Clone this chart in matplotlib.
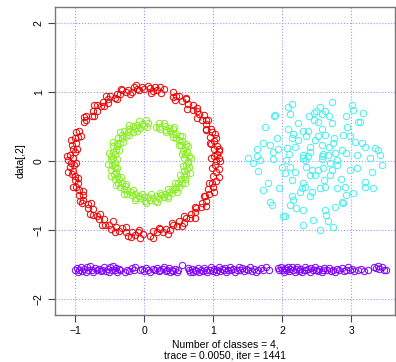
import matplotlib
matplotlib.use("Agg")
import matplotlib.pyplot as plt

# points (data units)
red_x = [1.04, 1.08, 1.01, 1.05, 1.09, 1.01, 1.05, 0.97, 1.01, 1.04, 0.96, 0.98, 0.97, 0.89, 0.90,
         0.89, 0.83, 0.86, 0.79, 0.77, 0.70, 0.70, 0.63, 0.61, 0.55, 0.50, 0.46, 0.42, 0.41, 0.29,
         0.24, 0.19, 0.16, 0.12, 0.08, 0.05, 0.00,
         -0.04, -0.07, -0.11, -0.15, -0.18, -0.24, -0.27, -0.32, -0.35, -0.40, -0.43, -0.49, -0.52,
         -0.52, -0.60, -0.63, -0.69, -0.68, -0.75, -0.76, -0.84, -0.84, -0.88, -0.94, -0.99, -0.96,
         -1.01, -0.99, -1.05, -1.03, -1.00, -1.07, -1.04, -1.10,
         -1.06, -1.02, -1.08, -1.03, -1.05, -1.00, -1.01, -0.96, -0.99, -0.94, -0.95, -0.89, -0.89,
         -0.90, -0.82, -0.81, -0.75, -0.75, -0.68, -0.66, -0.59, -0.57, -0.51, -0.48, -0.41, -0.37,
         -0.32, -0.27, -0.23, -0.18, -0.13, -0.09, -0.06, -0.02,
         0.09, 0.12, 0.18, 0.23, 0.27, 0.32, 0.38, 0.41, 0.48, 0.51, 0.58, 0.61, 0.67, 0.68, 0.74,
         0.75, 0.82, 0.83, 0.90, 0.88, 0.94, 0.92, 0.99, 0.98, 1.04, 1.00, 1.04, 1.08, 1.03,
         0.97, 1.09, 0.96, 1.02, 0.89, 0.92, 0.77, 0.77, 0.62, 0.60, 0.45, 0.23, 0.10,
         -0.12, -0.21, -0.34, -0.40, -0.55, -0.58, -0.73, -0.73, -0.88, -0.92, -1.06, -0.98, -1.12,
         -0.99, -1.10, -0.96, -1.03, -0.89, -0.93, -0.77, -0.79, -0.64, -0.62, -0.46, -0.42, -0.27,
         -0.19, -0.07, 0.12, 0.21, 0.34, 0.40, 0.55, 0.58, 0.74, 0.74, 0.89, 0.86, 1.01, 0.94,
         1.08, 0.98, 1.10]
red_y = [0.00, 0.04, 0.07, 0.11, 0.15, 0.18, 0.22, 0.25, 0.29, 0.34, 0.35, 0.42, 0.47, 0.47, 0.54,
         0.60, 0.60, 0.67, 0.68, 0.73, 0.74, 0.82, 0.83, 0.90, 0.87, 0.94, 0.95, 0.93, 1.00, 1.05,
         0.99, 1.03, 1.07, 1.02, 1.06, 1.09, 1.04,
         1.08, 1.03, 1.05, 1.08, 1.00, 1.03, 1.00, 1.03, 0.97, 0.98, 0.92, 0.95, 0.90,
         0.84, 0.86, 0.80, 0.82, 0.73, 0.72, 0.66, 0.65, 0.59, 0.57, 0.44, 0.42, 0.35,
         0.33, 0.27, 0.24, 0.18, 0.14, 0.09, 0.05, 0.02,
         -0.02, -0.05, -0.09, -0.14, -0.19, -0.21, -0.27, -0.31, -0.38, -0.42, -0.49, -0.49, -0.56,
         -0.61, -0.62, -0.68, -0.70, -0.78, -0.79, -0.84, -0.84, -0.92, -0.92, -0.98, -0.96, -1.01,
         -0.97, -1.02, -1.08, -1.02, -1.07, -1.03, -1.11, -1.05,
         -1.08, -1.01, -1.03, -0.98, -1.02, -0.98, -1.00, -0.93, -0.94, -0.87, -0.89, -0.83, -0.83,
         -0.76, -0.74, -0.68, -0.67, -0.61, -0.58, -0.51, -0.48, -0.41, -0.38, -0.32, -0.28, -0.21,
         -0.16, -0.11, -0.05,
         0.05, 0.17, 0.26, 0.39, 0.45, 0.60, 0.62, 0.77, 0.76, 0.92, 0.88, 1.07, 0.99,
         1.11, 0.97, 1.05, 0.90, 0.94, 0.80, 0.81, 0.66, 0.64, 0.37, 0.30, 0.17, 0.08,
         -0.03, -0.15, -0.24, -0.38, -0.43, -0.58, -0.60, -0.76, -0.76, -0.92, -0.87, -1.03, -0.95,
         -1.10, -1.00, -1.11, -0.97, -1.05, -0.90, -0.94, -0.79, -0.82, -0.66, -0.65, -0.50, -0.45,
         -0.31, -0.23, -0.10, 0.00]

green_x = [0.63, 0.58, 0.65, 0.59, 0.62, 0.56, 0.59, 0.61, 0.53, 0.55, 0.51, 0.52, 0.46, 0.46,
           0.42, 0.42, 0.38, 0.36, 0.31, 0.30, 0.28, 0.22, 0.21, 0.17,
           0.05, 0.02, 0.00, -0.03, -0.06, -0.10, -0.12, -0.17, -0.17, -0.22, -0.23, -0.29, -0.27,
           -0.32, -0.32, -0.38, -0.35, -0.40, -0.40, -0.46, -0.41, -0.45, -0.43, -0.48, -0.45, -0.48,
           -0.43, -0.47, -0.43, -0.48, -0.41, -0.44, -0.40, -0.43, -0.36, -0.38, -0.33, -0.35, -0.28,
           -0.29, -0.25, -0.25, -0.19, -0.18, -0.14, -0.12, -0.07, -0.06, -0.01, 0.01, 0.05,
           0.08, 0.12, 0.15, 0.18, 0.21, 0.24, 0.28, 0.30, 0.35, 0.36, 0.40, 0.40, 0.45, 0.46, 0.51,
           0.49, 0.54, 0.53, 0.59, 0.57, 0.61, 0.57, 0.62, 0.65, 0.60, 0.64,
           0.68, 0.55, 0.64, 0.50, 0.55, 0.41, 0.43, 0.31, 0.23,
           0.04, -0.07, -0.10, -0.22, -0.22, -0.35, -0.31, -0.45, -0.37, -0.51, -0.40,
           -0.52, -0.39, -0.48, -0.34, -0.41, -0.27, -0.29, -0.16, -0.14, -0.04, 0.02,
           0.10, 0.18, 0.23, 0.34, 0.35, 0.48, 0.45, 0.59, 0.52, 0.66, 0.56]
green_y = [0.00, 0.04, 0.07, 0.10, 0.14, 0.15, 0.20, 0.25, 0.24, 0.29, 0.30, 0.36, 0.34, 0.40,
           0.39, 0.46, 0.44, 0.48, 0.45, 0.51, 0.55, 0.50, 0.55, 0.50,
           0.56, 0.60, 0.51, 0.54, 0.48, 0.53, 0.48, 0.51, 0.43, 0.46, 0.42, 0.44, 0.37,
           0.38, 0.33, 0.34, 0.27, 0.27, 0.22, 0.22, 0.16, 0.14, 0.10, 0.08, 0.04, 0.01,
           -0.03, -0.06, -0.09, -0.13, -0.15, -0.19, -0.22, -0.26, -0.26, -0.31, -0.32, -0.37, -0.36,
           -0.41, -0.42, -0.48, -0.45, -0.49, -0.48, -0.53, -0.50, -0.54, -0.52, -0.58, -0.52,
           -0.56, -0.53, -0.57, -0.51, -0.53, -0.49, -0.52, -0.48, -0.50, -0.44, -0.46, -0.40, -0.41,
           -0.37, -0.37, -0.31, -0.31, -0.26, -0.26, -0.21, -0.19, -0.14, -0.12, -0.09, -0.05, -0.03,
           0.05, 0.11, 0.22, 0.24, 0.37, 0.35, 0.49, 0.42, 0.46,
           0.50, 0.58, 0.44, 0.52, 0.38, 0.42, 0.28, 0.28, 0.16, 0.12, 0.03,
           -0.04, -0.10, -0.21, -0.23, -0.35, -0.33, -0.47, -0.42, -0.56, -0.47, -0.60,
           -0.48, -0.59, -0.46, -0.54, -0.40, -0.45, -0.31, -0.32, -0.20, -0.17, -0.07]

cyan_x = [2.72, 2.14, 2.09, 2.55, 2.49, 2.62, 2.11, 2.46, 2.39, 2.57, 2.68, 2.93, 3.02, 3.01, 1.88,
          2.46, 2.52, 2.72, 2.23, 1.75, 2.09, 2.30, 2.38, 2.57, 2.94, 3.10, 1.92, 2.14, 2.16, 2.23,
          2.34, 2.47, 2.52, 2.62, 2.75, 2.88, 2.98, 3.05, 1.72, 1.83, 1.94, 2.07, 2.18, 2.41, 2.57,
          2.68, 2.74, 2.86, 1.63, 1.51, 1.63, 1.87, 2.10, 2.30, 2.40, 2.59, 2.67, 2.76, 2.93, 3.08,
          1.68, 2.06, 2.33, 2.57, 2.79, 3.17, 3.13, 3.39, 3.35, 3.27, 3.42, 3.15, 3.20, 1.89,
          1.58, 1.65, 1.87, 1.99, 2.04, 2.11, 2.18, 2.30, 2.38, 2.35, 2.43, 2.52, 2.41, 2.47, 2.57,
          2.59, 2.69, 2.79, 2.72, 2.69, 2.60, 2.85, 2.98, 3.08, 1.80, 1.72, 1.96, 2.14, 2.30, 2.28,
          2.43, 2.55, 2.62, 2.79, 2.91, 2.93, 3.03, 1.82, 1.85, 2.14, 2.16, 2.40, 2.11, 2.20, 2.30,
          2.62, 2.63, 2.76, 2.86, 2.01, 2.45, 2.67, 2.74, 2.30, 2.55, 2.04, 2.88, 2.26, 2.33, 3.20,
          3.32, 3.20, 3.45, 3.30]
cyan_y = [0.86, 0.83, 0.79, 0.79, 0.73, 0.73, 0.68, 0.70, 0.65, 0.68, 0.66, 0.66, 0.74, 0.82, 0.66,
          0.60, 0.57, 0.55, 0.55, 0.50, 0.46, 0.44, 0.44, 0.46, 0.49, 0.57, 0.34, 0.34, 0.39, 0.31,
          0.36, 0.30, 0.36, 0.38, 0.34, 0.38, 0.37, 0.28, 0.26, 0.23, 0.18, 0.19, 0.21, 0.21, 0.24,
          0.21, 0.26, 0.16, 0.18, 0.04, 0.08, 0.13, 0.10, 0.09, 0.14, 0.10, 0.09, 0.12, 0.12, 0.09,
          0.02, 0.02, 0.02, 0.03, 0.02, 0.70, 0.57, 0.16, 0.19, 0.05, 0.09, 0.27, 0.21, 0.67,
          -0.03, -0.14, 0.03, -0.08, -0.17, -0.09, -0.15, 0.04, 0.07, -0.08, -0.13, -0.13, -0.20,
          -0.20, 0.07, -0.10, -0.03, -0.05, -0.13, -0.20, -0.27, -0.26, -0.13, -0.10, -0.32, -0.42,
          -0.39, -0.27, -0.32, -0.39, -0.44, -0.39, -0.37, -0.39, -0.38, -0.49, -0.46, -0.59, -0.63,
          -0.50, -0.56, -0.51, -0.63, -0.68, -0.71, -0.71, -0.78, -0.66, -0.59, -0.80, -0.85, -0.87,
          -0.95, -0.93, -1.00, -0.80, -0.61, -0.44, -0.37, -0.37, -0.39, -0.30, -0.05, -0.15]

purple_x = [-1.00, -0.98, -0.96, -0.94, -0.92, -0.90, -0.88, -0.85, -0.83, -0.81, -0.78, -0.76,
            -0.74, -0.71, -0.69, -0.66, -0.63, -0.61, -0.58, -0.56, -0.53, -0.51, -0.49, -0.47,
            -0.45, -0.43, -0.41, -0.39, -0.37, -0.35,
            -0.28, -0.25, -0.22, -0.18, -0.15, -0.13,
            -0.06, -0.03, 0.00, 0.03, 0.06, 0.09, 0.12, 0.15, 0.18, 0.21, 0.23,
            0.27, 0.29, 0.31, 0.33, 0.36, 0.38, 0.40, 0.42, 0.45, 0.47, 0.49, 0.54,
            0.63, 0.65, 0.67, 0.69, 0.71, 0.73, 0.75, 0.78, 0.80, 0.82, 0.85, 0.87, 0.89, 0.91,
            0.95, 0.97, 0.99, 1.01, 1.04, 1.06, 1.08, 1.10, 1.12, 1.15, 1.17, 1.19, 1.21, 1.24,
            1.26, 1.29, 1.31, 1.34, 1.37, 1.39, 1.42, 1.45, 1.47, 1.50, 1.53, 1.56, 1.59, 1.62,
            1.65, 1.69, 1.72, 1.77, 1.81,
            1.94, 1.96, 1.98, 2.00, 2.02, 2.04, 2.06, 2.08, 2.10, 2.12, 2.14, 2.16, 2.18, 2.20,
            2.22, 2.24, 2.26, 2.29, 2.31, 2.33, 2.35, 2.38, 2.40, 2.42, 2.45, 2.47, 2.49, 2.52,
            2.54, 2.57, 2.59, 2.61,
            2.65, 2.68, 2.71, 2.74, 2.77, 2.80, 2.83, 2.86, 2.89, 2.92, 2.95, 2.98, 3.01, 3.04,
            3.10, 3.14, 3.19, 3.25, 3.33, 3.36, 3.39, 3.41, 3.44, 3.47, 3.50]
purple_y = [-1.58, -1.55, -1.60, -1.57, -1.53, -1.59, -1.56, -1.61, -1.54, -1.58, -1.52, -1.57,
            -1.60, -1.55, -1.58, -1.56, -1.59, -1.57, -1.54, -1.59, -1.56, -1.60, -1.53, -1.57,
            -1.52, -1.58, -1.55, -1.60, -1.56, -1.58,
            -1.60, -1.57, -1.59, -1.55, -1.58, -1.54,
            -1.58, -1.56, -1.59, -1.55, -1.57, -1.60, -1.56, -1.58, -1.55, -1.59, -1.57,
            -1.56, -1.53, -1.59, -1.57, -1.55, -1.60, -1.57, -1.59, -1.56, -1.61, -1.58, -1.51,
            -1.55, -1.58, -1.60, -1.56, -1.61, -1.57, -1.59, -1.55, -1.60, -1.57, -1.59, -1.55, -1.58, -1.61,
            -1.57, -1.54, -1.59, -1.56, -1.60, -1.57, -1.54, -1.59, -1.56, -1.58, -1.55, -1.60, -1.57, -1.54,
            -1.58, -1.56, -1.60, -1.57, -1.53, -1.58, -1.55, -1.59, -1.56, -1.58, -1.54, -1.59, -1.56, -1.60,
            -1.57, -1.55, -1.58, -1.54, -1.57,
            -1.55, -1.58, -1.53, -1.57, -1.60, -1.55, -1.58, -1.54, -1.59, -1.56, -1.53, -1.58, -1.61, -1.56,
            -1.54, -1.59, -1.56, -1.60, -1.57, -1.54, -1.58, -1.56, -1.60, -1.55, -1.58, -1.53, -1.57, -1.59,
            -1.56, -1.60, -1.57, -1.55,
            -1.58, -1.55, -1.59, -1.57, -1.60, -1.56, -1.58, -1.55, -1.59, -1.57, -1.54, -1.58, -1.56, -1.59,
            -1.58, -1.56, -1.59, -1.57, -1.53, -1.55, -1.52, -1.56, -1.54, -1.58, -1.57]

xticks = [-1, 0, 1, 2, 3]
yticks = [-2, -1, 0, 1, 2]

plt.rcParams['font.family'] = ['Liberation Sans', 'DejaVu Sans']

fig = plt.figure(figsize=(3.96, 3.62), dpi=100)
ax = fig.add_axes([0.139, 0.130, 0.858, 0.851])

for xs, ys, col in [(red_x, red_y, '#EE0000'), (green_x, green_y, '#88EE22'),
                    (cyan_x, cyan_y, '#44F0F0'), (purple_x, purple_y, '#8000FF')]:
    ax.plot(xs, ys, 'o', mfc='none', mec=col, ms=4.6, mew=0.7, zorder=3)

ax.set_xlim(-1.294, 3.633)
ax.set_ylim(-2.228, 2.236)
ax.set_xticks(xticks)
ax.set_yticks(yticks)
ax.grid(True, linestyle=':', color='#9999ff', linewidth=0.8)

for s in ax.spines.values():
    s.set_color('#777777')
    s.set_linewidth(1.0)

ax.tick_params(direction='out', length=5, width=0.8, color='#444444', labelsize=7.5, pad=3)
for lab in ax.get_yticklabels():
    lab.set_rotation(90)
    lab.set_va('center')

ax.set_ylabel('data[,2]', fontsize=7.5, labelpad=6)
ax.set_xlabel('Number of classes = 4,\ntrace = 0.0050, iter = 1441', fontsize=7.5, labelpad=2.5,
              linespacing=1.12)

fig.savefig('out.png', dpi=100)
